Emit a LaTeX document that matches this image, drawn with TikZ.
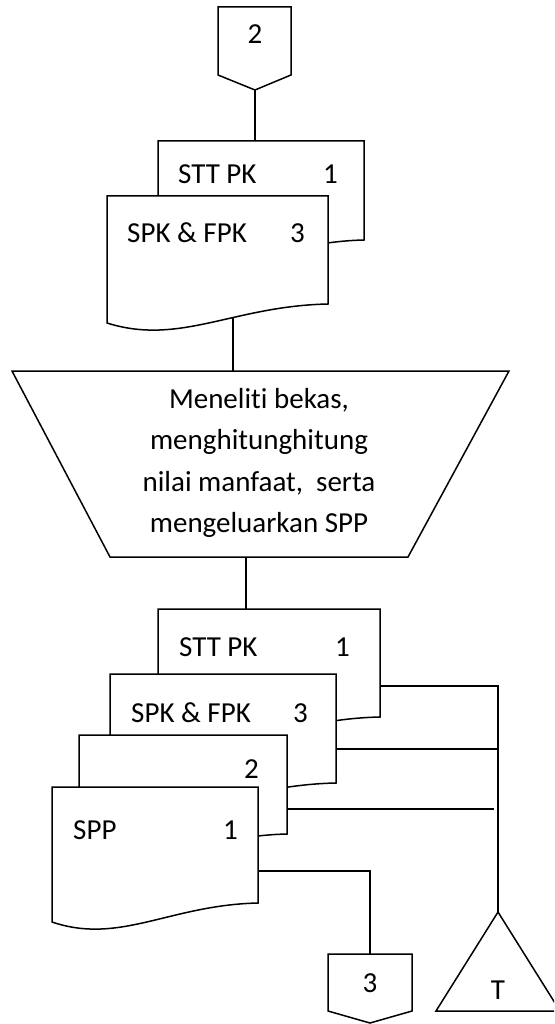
\documentclass[tikz,border=0pt]{standalone}
\usepackage{fontspec}
\setmainfont{Carlito}[Ligatures=NoCommon]
\newcommand\mydoc[5]{% name, L, R, top, left-bottom
  \path[shp] (#2,#4) coordinate (#1-nw) -- (#3,#4) coordinate (#1-ne)
    -- (#3,#5-19) coordinate (#1-se)
    .. controls ({#2+0.57*(#3-#2)},#5-17) and ({#2+0.33*(#3-#2)},#5+23) .. (#2,#5) coordinate (#1-sw) -- cycle;}
\tikzset{
  shp/.style={draw=black, line width=1.5pt, fill=white, line join=miter},
  ln/.style={draw=black, line width=1.5pt},
  lbl/.style={font=\fontsize{29}{41.3}\selectfont, inner sep=0pt, text=black},
}
\begin{document}
\begin{tikzpicture}[x=1pt,y=-1pt]
\useasboundingbox (0,0) rectangle (554,1024);
\clip (0,0) rectangle (554,1024);
\fill[white] (0,0) rectangle (554,1024);
% coordinates for connectors
\coordinate (c2tip) at (255,90);
\coordinate (d1top) at (255,141);
\coordinate (d2out) at (233,300);
\coordinate (trtop) at (233,371);
\coordinate (trbot) at (246,557);
\coordinate (dAtop) at (246,609);
\coordinate (dAr) at (375,686);
\coordinate (dBr) at (330,749);
\coordinate (dCr) at (280,809);
\coordinate (dDr) at (250,871);
\coordinate (jA) at (498,686);
\coordinate (jB) at (498,749);
\coordinate (jC) at (494,809);
\coordinate (bend) at (370,871);
\coordinate (c3top) at (370,954);
\coordinate (ttop) at (498,912);
% connectors (drawn first, shapes cover their ends)
\draw[ln] (c2tip) -- (d1top);
\draw[ln] (d2out) -- (trtop);
\draw[ln] (trbot) -- (dAtop);
\draw[ln] (dAr) -- (jA) -- (ttop);
\draw[ln] (dBr) -- (jB);
\draw[ln] (dCr) -- (jC);
\draw[ln] (dDr) -- (bend) -- (c3top);
% off-page connector 2
\path[shp] (218,7) -- (291,7) -- (291,75) -- (255,90) -- (218,75) -- cycle;
\node[lbl, anchor=base] (t2) at (255,44) {2};
% top document pair
\mydoc{d1}{158}{364}{141}{259}
\node[lbl, anchor=base west] (t1a) at (178,184) {STT PK};
\node[lbl, anchor=base west] (t1b) at (323,184) {1};
\mydoc{d2}{107}{328}{196}{323}
\node[lbl, anchor=base west] (t2a) at (127,243) {SPK \& FPK};
\node[lbl, anchor=base west] (t2b) at (290,243) {3};
% manual operation trapezoid
\path[shp] (12,371) -- (509,371) -- (408,557) -- (110,557) -- cycle;
\node[lbl, align=center, anchor=center] (tr) at (259,463) {Meneliti bekas,\\ menghitunghitung\\ nilai manfaat,\ \ serta\\ mengeluarkan SPP};
% lower document stack
\mydoc{dA}{158}{380}{609}{736}
\node[lbl, anchor=base west] (tAa) at (179,656) {STT PK};
\node[lbl, anchor=base west] (tAb) at (335,656) {1};
\mydoc{dB}{110}{336}{674}{802}
\node[lbl, anchor=base west] (tBa) at (131,722) {SPK \& FPK};
\node[lbl, anchor=base west] (tBb) at (293,722) {3};
\mydoc{dC}{79}{287}{735}{853}
\node[lbl, anchor=base west] (tCb) at (244,778) {2};
\mydoc{dD}{52}{258}{787}{922}
\node[lbl, anchor=base west] (tDa) at (73,839) {SPP};
\node[lbl, anchor=base west] (tDb) at (223,839) {1};
% off-page connector 3
\path[shp] (328,954) -- (412,954) -- (412,1011) -- (370,1023) -- (328,1011) -- cycle;
\node[lbl, anchor=base] (t3) at (370,992) {3};
% archive triangle
\path[shp] (ttop) -- (560,1011) -- (436,1011) -- cycle;
\node[lbl, anchor=base] (tT) at (498,999) {T};
\end{tikzpicture}
\end{document}
